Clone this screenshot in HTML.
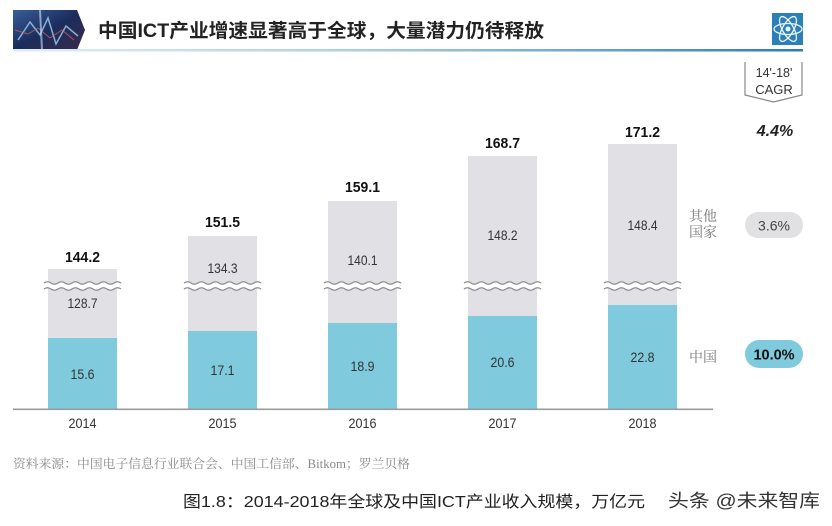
<!DOCTYPE html>
<html><head><meta charset="utf-8">
<style>
html,body{margin:0;padding:0;background:#fff;}
svg{display:block;}
.n{font-family:"Liberation Sans",Arial,sans-serif;font-size:13.5px;fill:#333;text-anchor:middle;}
.t{font-family:"Liberation Sans",Arial,sans-serif;font-size:15px;font-weight:bold;fill:#111;text-anchor:middle;}
.y{font-family:"Liberation Sans",Arial,sans-serif;font-size:13.5px;fill:#333;text-anchor:middle;}
.lg{font-family:"Liberation Serif","Noto Serif CJK SC",serif;font-size:14px;fill:#777;}
</style></head>
<body>
<svg width="832" height="526" viewBox="0 0 832 526" xmlns="http://www.w3.org/2000/svg">
<defs>
<linearGradient id="hl" x1="0" x2="1" y1="0" y2="0">
<stop offset="0" stop-color="#e3eef6"/><stop offset="0.45" stop-color="#a9cde4"/><stop offset="1" stop-color="#2b7db5"/>
</linearGradient>
<linearGradient id="th" x1="0" x2="1" y1="0" y2="1">
<stop offset="0" stop-color="#3a5f9a"/><stop offset="0.5" stop-color="#1b2c5c"/><stop offset="1" stop-color="#3b2a4a"/>
</linearGradient>
</defs>
<rect width="832" height="526" fill="#fff"/>

<!-- header -->
<polygon points="13,10 77,10 85,30 77,50 13,50" fill="url(#th)"/>
<path d="M18,40 L30,22 L40,35 L48,18 L56,44 L66,26 L78,36" stroke="#9fd2f0" stroke-width="1.5" fill="none" opacity="0.8"/>
<path d="M15,30 L28,34 L38,28 L50,38 L62,30 L74,40" stroke="#d06a6a" stroke-width="1" fill="none" opacity="0.7"/>
<path d="M40,10 L42,50" stroke="#cfe9ff" stroke-width="2" opacity="0.6"/>
<text x="98" y="37" font-family="'Liberation Sans','Noto Sans CJK SC',sans-serif" font-size="19" font-weight="bold" fill="#222" textLength="446" lengthAdjust="spacingAndGlyphs">中国ICT产业增速显著高于全球，大量潜力仍待释放</text>
<rect x="13" y="49" width="790" height="2.5" fill="url(#hl)"/>
<!-- icon -->
<rect x="772" y="13" width="31" height="32" fill="#2d7fb7"/>
<g stroke="#e8f4fb" stroke-width="1.3" fill="none">
<ellipse cx="788" cy="29" rx="14" ry="5.5"/>
<ellipse cx="788" cy="29" rx="14" ry="5.5" transform="rotate(60 788 29)"/>
<ellipse cx="788" cy="29" rx="14" ry="5.5" transform="rotate(-60 788 29)"/>
</g>
<circle cx="788" cy="29" r="2.5" fill="#e8f4fb"/>

<!-- CAGR box -->
<path d="M745,62 V95 L773.5,102 L802,95 V62" stroke="#888" stroke-width="1.2" fill="none"/>
<text x="774" y="77" font-family="'Liberation Sans',sans-serif" font-size="12.5" fill="#333" text-anchor="middle">14'-18'</text>
<text x="774" y="94" font-family="'Liberation Sans',sans-serif" font-size="13" fill="#333" text-anchor="middle">CAGR</text>
<text x="775" y="136" font-family="'Liberation Sans',sans-serif" font-size="16" font-weight="bold" font-style="italic" fill="#222" text-anchor="middle">4.4%</text>

<!-- bars -->
<g fill="#e1e1e5">
<rect x="48" y="269" width="69" height="69"/>
<rect x="188" y="236" width="69" height="95"/>
<rect x="328" y="201" width="69" height="122"/>
<rect x="468" y="156" width="69" height="160"/>
<rect x="608" y="144" width="69" height="161"/>
</g>
<g fill="#7fcbdd">
<rect x="48" y="338" width="69" height="71"/>
<rect x="188" y="331" width="69" height="78"/>
<rect x="328" y="323" width="69" height="86"/>
<rect x="468" y="316" width="69" height="93"/>
<rect x="608" y="305" width="69" height="104"/>
</g>

<!-- breaks -->
<g>
<g id="brk">
<path d="M44,286 q3.5,-2.5 7,0 t7,0 t7,0 t7,0 t7,0 t7,0 t7,0 t7,0 t7,0 t7,0 t7,0" stroke="#fff" stroke-width="6" fill="none"/>
<path d="M44,283 q3.5,-2.5 7,0 t7,0 t7,0 t7,0 t7,0 t7,0 t7,0 t7,0 t7,0 t7,0 t7,0" stroke="#8a8a8a" stroke-width="1.3" fill="none"/>
<path d="M44,289 q3.5,-2.5 7,0 t7,0 t7,0 t7,0 t7,0 t7,0 t7,0 t7,0 t7,0 t7,0 t7,0" stroke="#8a8a8a" stroke-width="1.3" fill="none"/>
</g>
<use href="#brk" x="140"/>
<use href="#brk" x="280"/>
<use href="#brk" x="420"/>
<use href="#brk" x="560"/>
</g>

<!-- axis -->
<rect x="13" y="408.5" width="700" height="1.6" fill="#9a9a9a"/>

<!-- totals -->
<text class="t" x="82.5" y="262" textLength="35" lengthAdjust="spacingAndGlyphs">144.2</text>
<text class="t" x="222.5" y="227" textLength="35" lengthAdjust="spacingAndGlyphs">151.5</text>
<text class="t" x="362.5" y="192" textLength="35" lengthAdjust="spacingAndGlyphs">159.1</text>
<text class="t" x="502.5" y="148" textLength="35" lengthAdjust="spacingAndGlyphs">168.7</text>
<text class="t" x="642.5" y="137" textLength="35" lengthAdjust="spacingAndGlyphs">171.2</text>

<!-- gray values -->
<text class="n" x="82.5" y="308" textLength="30" lengthAdjust="spacingAndGlyphs">128.7</text>
<text class="n" x="222.5" y="273" textLength="30" lengthAdjust="spacingAndGlyphs">134.3</text>
<text class="n" x="362.5" y="265" textLength="30" lengthAdjust="spacingAndGlyphs">140.1</text>
<text class="n" x="502.5" y="240" textLength="30" lengthAdjust="spacingAndGlyphs">148.2</text>
<text class="n" x="642.5" y="230" textLength="30" lengthAdjust="spacingAndGlyphs">148.4</text>

<!-- blue values -->
<text class="n" x="82.5" y="379" textLength="24" lengthAdjust="spacingAndGlyphs">15.6</text>
<text class="n" x="222.5" y="375" textLength="24" lengthAdjust="spacingAndGlyphs">17.1</text>
<text class="n" x="362.5" y="371" textLength="24" lengthAdjust="spacingAndGlyphs">18.9</text>
<text class="n" x="502.5" y="367" textLength="24" lengthAdjust="spacingAndGlyphs">20.6</text>
<text class="n" x="642.5" y="362" textLength="24" lengthAdjust="spacingAndGlyphs">22.8</text>

<!-- years -->
<text class="y" x="82.5" y="428" textLength="28" lengthAdjust="spacingAndGlyphs">2014</text>
<text class="y" x="222.5" y="428" textLength="28" lengthAdjust="spacingAndGlyphs">2015</text>
<text class="y" x="362.5" y="428" textLength="28" lengthAdjust="spacingAndGlyphs">2016</text>
<text class="y" x="502.5" y="428" textLength="28" lengthAdjust="spacingAndGlyphs">2017</text>
<text class="y" x="642.5" y="428" textLength="28" lengthAdjust="spacingAndGlyphs">2018</text>

<!-- legend -->
<text class="lg" x="689" y="221">其他</text>
<text class="lg" x="689" y="237">国家</text>
<text class="lg" x="689" y="362">中国</text>
<rect x="745" y="212" width="58" height="26" rx="13" fill="#e1e1e4"/>
<text x="774" y="230.5" font-family="'Liberation Sans',sans-serif" font-size="14" fill="#444" text-anchor="middle">3.6%</text>
<rect x="745" y="340" width="58" height="28" rx="14" fill="#7fcbdd"/>
<text x="774" y="359.5" font-family="'Liberation Sans',sans-serif" font-size="14.5" font-weight="bold" fill="#111" text-anchor="middle">10.0%</text>

<!-- source -->
<text x="13" y="468" font-family="'Liberation Serif','Noto Serif CJK SC',serif" font-size="12.5" fill="#888" textLength="397" lengthAdjust="spacingAndGlyphs">资料来源：中国电子信息行业联合会、中国工信部、Bitkom；罗兰贝格</text>

<!-- caption -->
<text x="183" y="507" font-family="'Liberation Sans','Noto Sans CJK SC',sans-serif" font-size="16" fill="#222" textLength="462" lengthAdjust="spacingAndGlyphs">图1.8：2014-2018年全球及中国ICT产业收入规模，万亿元</text>
<text x="668" y="507" font-family="'Liberation Sans','Noto Sans CJK SC',sans-serif" font-size="18" fill="#333" textLength="152" lengthAdjust="spacingAndGlyphs">头条 @未来智库</text>
</svg>
</body></html>
